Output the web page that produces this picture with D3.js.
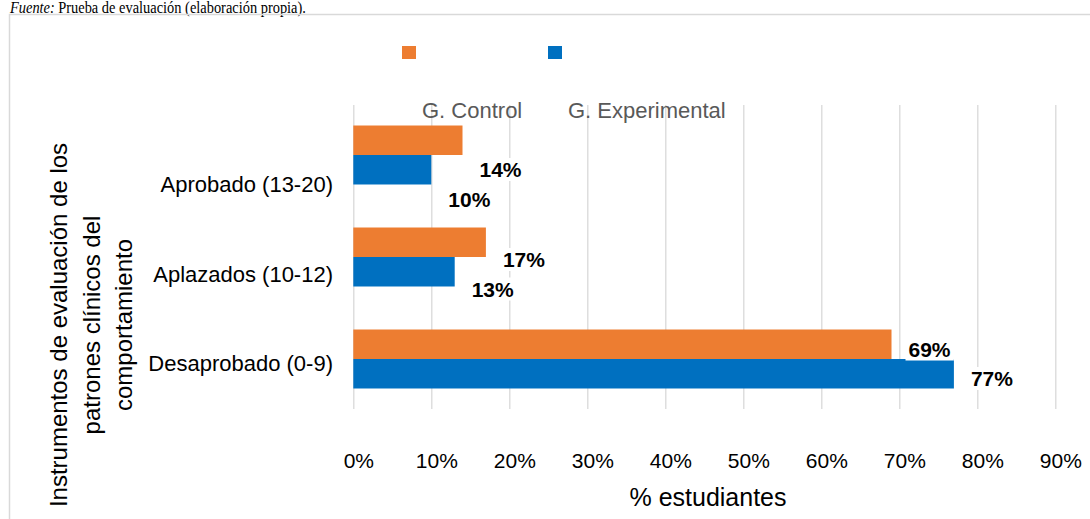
<!DOCTYPE html>
<html>
<head>
<meta charset="utf-8">
<script src="https://cdn.jsdelivr.net/npm/d3@7"></script>
<style>
  body { margin: 0; background: #fff; }
  svg { display: block; font-family: "Liberation Sans", Arial, sans-serif; }
</style>
</head>
<body>
<svg id="chart" width="1090" height="519"></svg>
<script>
const categories = ["Aprobado (13-20)", "Aplazados (10-12)", "Desaprobado (0-9)"];
const series = ["G. Control", "G. Experimental"];
const control = [14, 17, 69];
const experimental = [10, 13, 77];
const tickValues = [0, 10, 20, 30, 40, 50, 60, 70, 80, 90];

const colors = ["#ED7D31", "#0070C0"];
// labels were nudged down by hand in the original, per category
const nudge = [24.5, 12.5, 0];

const svg = d3.select("#chart");

// caption above the frame (top is clipped in the original too)
const capG = svg.append("g");
const capA = capG.append("text")
  .attr("x", 0)
  .attr("y", 0)
  .style("font-family", "'Liberation Serif', 'Times New Roman', serif")
  .style("font-size", "17px")
  .style("font-style", "italic")
  .text("Fuente:");
capG.append("text")
  .attr("x", capA.node().getComputedTextLength() + 4)
  .attr("y", 0)
  .style("font-family", "'Liberation Serif', 'Times New Roman', serif")
  .style("font-size", "17px")
  .text("Prueba de evaluación (elaboración propia).");
const capW = capG.node().getBBox().width;
capG.attr("transform", `translate(10,13) scale(${297 / capW},1)`);

// frame
svg.append("path")
  .attr("d", "M9.5,519 V14.5 H1090")
  .attr("fill", "none")
  .attr("stroke", "#d9d9d9")
  .attr("stroke-width", 1.5);

const x = d3.scaleLinear().domain([0, 90]).range([353.3, 1055.3]);

const y0 = d3.scaleBand().domain(categories).range([104, 410]);

const y1 = d3.scaleBand()
  .domain(series)
  .range([0, y0.bandwidth()])
  .paddingInner(0)
  .paddingOuter(0.729);

// gridlines
const grid = svg.append("g")
  .attr("transform", "translate(0,409)")
  .call(d3.axisBottom(x).tickValues(tickValues).tickSize(-(409 - 105)).tickFormat(""));
grid.select(".domain").remove();
grid.selectAll("line").attr("stroke", "#d9d9d9").attr("stroke-width", 1.3);

// tick labels
const xAxis = svg.append("g")
  .attr("transform", "translate(0,468)")
  .call(d3.axisBottom(x).tickValues(tickValues).tickSize(0).tickFormat((d) => d + "%"));
xAxis.select(".domain").remove();
xAxis.selectAll("text")
  .attr("y", 0)
  .attr("dy", 0)
  .attr("dx", 5)
  .attr("fill", "#000")
  .style("font-size", "21px");

// x title
svg.append("text")
  .attr("x", 708)
  .attr("y", 506)
  .attr("text-anchor", "middle")
  .style("font-size", "25px")
  .text("% estudiantes");

// y title
const yTitle = ["Instrumentos de evaluación de los", "patrones clínicos del", "comportamiento"];
svg.append("g")
  .selectAll("text")
  .data(yTitle)
  .enter()
  .append("text")
  .attr("transform", (d, i) => `translate(${67 + i * 32.5},325) rotate(-90)`)
  .attr("text-anchor", "middle")
  .style("font-size", "24px")
  .text((d) => d);

// category labels
svg.append("g")
  .selectAll("text")
  .data(categories)
  .enter()
  .append("text")
  .attr("x", 333)
  .attr("y", (d, i) => y0(d) + y0.bandwidth() / 2 + 12 + nudge[i])
  .attr("text-anchor", "end")
  .style("font-size", "22px")
  .text((d) => d);

const rows = categories.map((c, i) => ({
  cat: c,
  idx: i,
  vals: [
    { s: series[0], v: control[i], k: 0 },
    { s: series[1], v: experimental[i], k: 1 },
  ],
}));

const groups = svg.selectAll(".bar-group")
  .data(rows)
  .enter()
  .append("g")
  .attr("class", "bar-group")
  .attr("transform", (d) => `translate(0,${y0(d.cat)})`);

groups.selectAll("rect")
  .data((d) => d.vals)
  .enter()
  .append("rect")
  .attr("x", x(0))
  .attr("y", (d) => y1(d.s))
  .attr("width", (d) => x(d.v) - x(0))
  .attr("height", y1.bandwidth())
  .attr("fill", (d) => colors[d.k]);

// data labels with white boxes
groups.each(function (row) {
  const g = d3.select(this);
  row.vals.forEach((d) => {
    const t = g.append("text")
      .attr("x", x(d.v) + 17)
      .attr("y", y1(d.s) + 27 + nudge[row.idx])
      .style("font-size", "21px")
      .style("font-weight", "bold")
      .text(d.v + "%");
    const b = t.node().getBBox();
    g.insert("rect", "text")
      .attr("x", b.x - 3)
      .attr("y", b.y)
      .attr("width", b.width + 6)
      .attr("height", b.height)
      .attr("fill", "#fff");
  });
});

// legend
const legend = svg.selectAll(".legend")
  .data(series)
  .enter()
  .append("g")
  .attr("class", "legend");

legend.append("rect")
  .attr("x", (d, i) => 402 + i * 146)
  .attr("y", 46)
  .attr("width", 14)
  .attr("height", 13)
  .attr("fill", (d, i) => colors[i]);

legend.append("text")
  .attr("x", (d, i) => 422 + i * 146)
  .attr("y", 118)
  .attr("fill", "#595959")
  .style("font-size", "22px")
  .text((d) => d);
</script>
</body>
</html>
